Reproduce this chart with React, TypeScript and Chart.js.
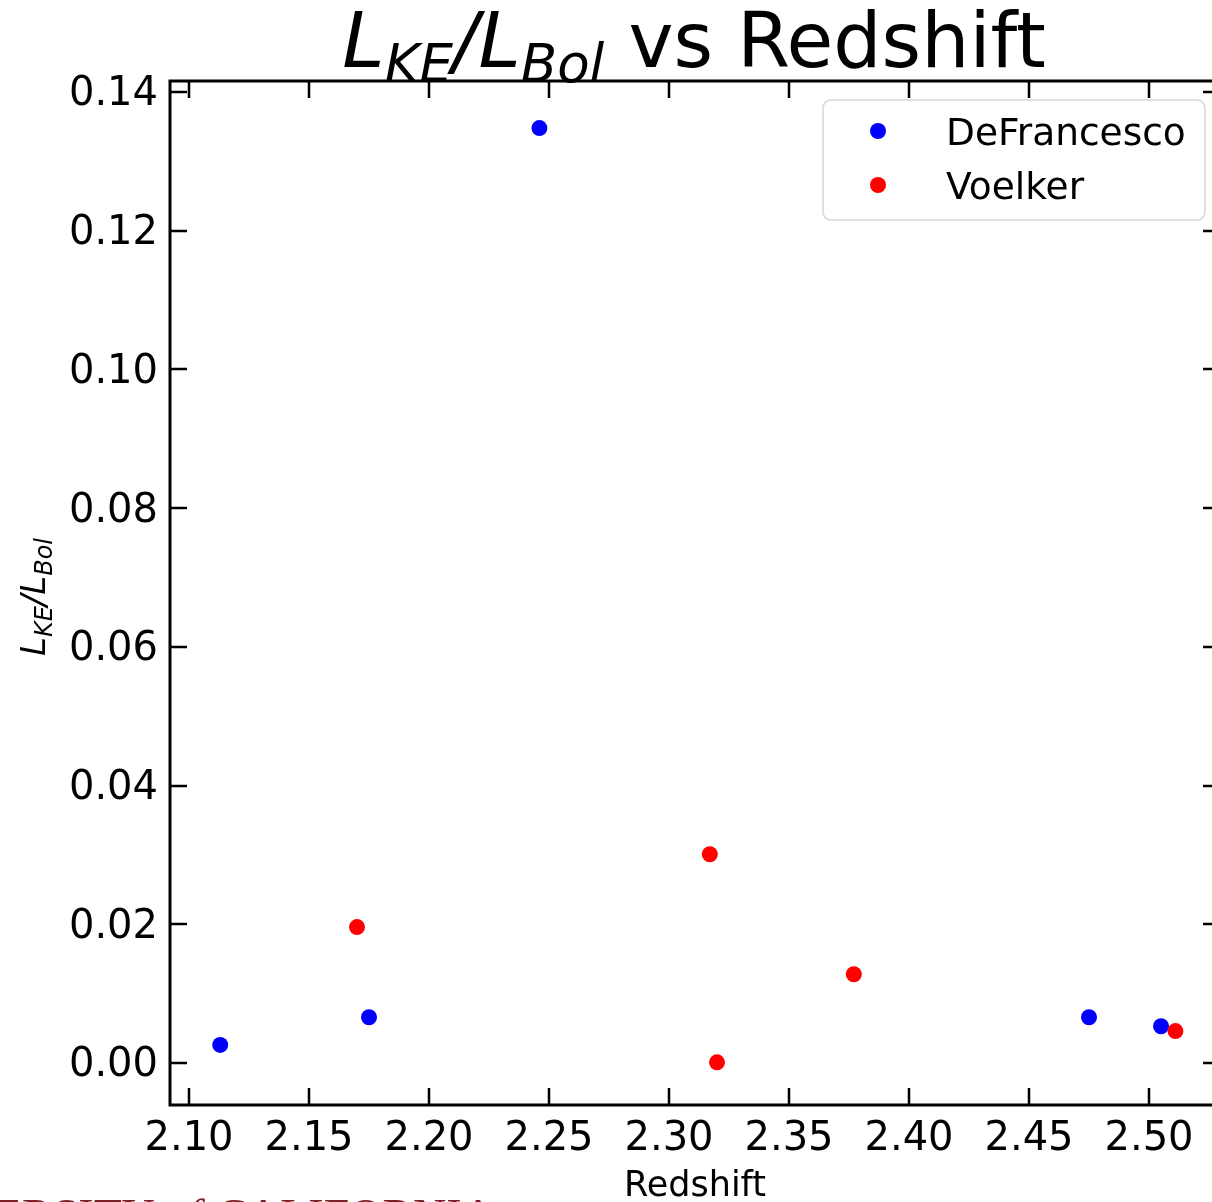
import React, { useEffect, useRef } from "react";
import { Chart, registerables } from "chart.js";

Chart.register(...registerables);

// ---------- data ----------
const seriesNames = ["DeFrancesco", "Voelker"];
const seriesColors = ["#0000ff", "#ff0000"];
const defrancescoZ = [2.113, 2.175, 2.246, 2.475, 2.505];
const defrancescoRatio = [0.0026, 0.0066, 0.1348, 0.0066, 0.0053];
const voelkerZ = [2.17, 2.317, 2.32, 2.377, 2.511];
const voelkerRatio = [0.0196, 0.0301, 0.0001, 0.0128, 0.0046];
const xTickValues = [2.1, 2.15, 2.2, 2.25, 2.3, 2.35, 2.4, 2.45, 2.5];
const yTickValues = [0, 0.02, 0.04, 0.06, 0.08, 0.1, 0.12, 0.14];
const xRange = [2.09208, 2.52958];
const yRange = [-0.006056, 0.141586];
const xLabel = "Redshift";

const FONT = "'DejaVu Sans', sans-serif";

type Seg = { text: string; italic?: boolean; size: number; dy?: number };

function drawSegs(ctx: CanvasRenderingContext2D, segs: Seg[], cx: number, baseY: number) {
  let total = 0;
  const widths: number[] = [];
  for (const s of segs) {
    ctx.font = `${s.italic ? "italic " : ""}${s.size}px ${FONT}`;
    const w = ctx.measureText(s.text).width;
    widths.push(w);
    total += w;
  }
  let x = cx - total / 2;
  ctx.textAlign = "left";
  ctx.textBaseline = "alphabetic";
  segs.forEach((s, i) => {
    ctx.font = `${s.italic ? "italic " : ""}${s.size}px ${FONT}`;
    ctx.fillText(s.text, x, baseY + (s.dy || 0));
    x += widths[i];
  });
}

const decorPlugin = {
  id: "decor",
  afterDraw(chart: any) {
    const ctx: CanvasRenderingContext2D = chart.ctx;
    const { left, right, top, bottom } = chart.chartArea;
    const xs = chart.scales.x;
    const ys = chart.scales.y;
    ctx.save();
    ctx.fillStyle = "#000";
    ctx.strokeStyle = "#000";
    // inward ticks
    const tl = 17;
    ctx.lineWidth = 2.5;
    ctx.beginPath();
    xs.ticks.forEach((t: any) => {
      const px = Math.round(xs.getPixelForValue(t.value));
      ctx.moveTo(px, bottom);
      ctx.lineTo(px, bottom - tl);
      ctx.moveTo(px, top);
      ctx.lineTo(px, top + tl);
    });
    ys.ticks.forEach((t: any) => {
      const py = Math.round(ys.getPixelForValue(t.value));
      ctx.moveTo(left, py);
      ctx.lineTo(left + tl, py);
      ctx.moveTo(right, py);
      ctx.lineTo(right - tl, py);
    });
    ctx.stroke();
    // frame
    ctx.lineWidth = 3;
    ctx.strokeRect(left, top, right - left, bottom - top);

    // title
    const cx = (left + right) / 2;
    drawSegs(
      ctx,
      [
        { text: "L", italic: true, size: 76 },
        { text: "KE", italic: true, size: 53, dy: 15 },
        { text: "/", italic: true, size: 76 },
        { text: "L", italic: true, size: 76 },
        { text: "Bol", italic: true, size: 53, dy: 15 },
        { text: " vs Redshift", size: 76 },
      ],
      cx - 1,
      67
    );

    // x label
    ctx.font = `35px ${FONT}`;
    ctx.textAlign = "center";
    ctx.textBaseline = "alphabetic";
    ctx.fillText(xLabel, cx, 1196);

    // y label
    ctx.save();
    ctx.translate(45, 597);
    ctx.rotate(-Math.PI / 2);
    drawSegs(
      ctx,
      [
        { text: "L", italic: true, size: 34 },
        { text: "KE", italic: true, size: 24, dy: 7 },
        { text: "/", italic: true, size: 34 },
        { text: "L", italic: true, size: 34 },
        { text: "Bol", italic: true, size: 24, dy: 7 },
      ],
      0,
      0
    );
    ctx.restore();

    // legend
    const lx = 823, ly = 100, lw = 382, lh = 120, r = 8;
    ctx.beginPath();
    ctx.moveTo(lx + r, ly);
    ctx.arcTo(lx + lw, ly, lx + lw, ly + lh, r);
    ctx.arcTo(lx + lw, ly + lh, lx, ly + lh, r);
    ctx.arcTo(lx, ly + lh, lx, ly, r);
    ctx.arcTo(lx, ly, lx + lw, ly, r);
    ctx.closePath();
    ctx.fillStyle = "rgba(255,255,255,0.85)";
    ctx.fill();
    ctx.lineWidth = 1.5;
    ctx.strokeStyle = "#d6d6d6";
    ctx.stroke();
    chart.data.datasets.forEach((ds: any, i: number) => {
      const yy = 131 + i * 54;
      ctx.beginPath();
      ctx.arc(878, yy, 8, 0, Math.PI * 2);
      ctx.fillStyle = ds.backgroundColor;
      ctx.fill();
      ctx.fillStyle = "#000";
      ctx.font = `37.5px ${FONT}`;
      ctx.textAlign = "left";
      ctx.textBaseline = "middle";
      ctx.fillText(ds.label, 946, yy + 4);
    });

    // cut-off text at the very bottom of the screenshot
    ctx.fillStyle = "#7d1f24";
    ctx.font = `46px 'Liberation Serif', serif`;
    ctx.textAlign = "left";
    ctx.textBaseline = "alphabetic";
    ctx.fillText("ERSITY of CALIFORNIA", -6, 1231);
    ctx.restore();
  },
};

export default function App() {
  const ref = useRef<HTMLCanvasElement | null>(null);
  useEffect(() => {
    if (!ref.current) return;
    const chart = new Chart(ref.current, {
      type: "scatter",
      data: {
        datasets: [
          {
            label: seriesNames[0],
            data: defrancescoZ.map((x, i) => ({ x, y: defrancescoRatio[i] })),
            backgroundColor: seriesColors[0],
            borderWidth: 0,
            pointRadius: 8,
            order: 1,
          },
          {
            label: seriesNames[1],
            data: voelkerZ.map((x, i) => ({ x, y: voelkerRatio[i] })),
            backgroundColor: seriesColors[1],
            borderWidth: 0,
            pointRadius: 8,
            order: 0,
          },
        ],
      },
      options: {
        responsive: false,
        animation: false,
        events: [],
        layout: { padding: { top: 81, right: 20, left: 0, bottom: 0 } },
        plugins: {
          legend: { display: false },
          title: { display: false },
          tooltip: { enabled: false },
        },
        scales: {
          x: {
            type: "linear",
            min: xRange[0],
            max: xRange[1],
            grid: { display: false, drawTicks: false },
            border: { display: false },
            afterBuildTicks: (s: any) => {
              s.ticks = xTickValues.map((v) => ({ value: v }));
            },
            afterFit: (s: any) => {
              s.height = 97;
            },
            ticks: {
              autoSkip: false,
              maxRotation: 0,
              padding: 11,
              color: "#000",
              font: { size: 40, family: FONT },
              callback: (v: any) => Number(v).toFixed(2),
            },
          },
          y: {
            type: "linear",
            min: yRange[0],
            max: yRange[1],
            grid: { display: false, drawTicks: false },
            border: { display: false },
            afterBuildTicks: (s: any) => {
              s.ticks = yTickValues.map((v) => ({ value: v }));
            },
            afterFit: (s: any) => {
              s.width = 170;
            },
            ticks: {
              autoSkip: false,
              padding: 12,
              labelOffset: 3,
              color: "#000",
              font: { size: 40, family: FONT },
              callback: (v: any) => Number(v).toFixed(2),
            },
          },
        },
      },
      plugins: [decorPlugin],
    } as any);
    return () => chart.destroy();
  }, []);
  return (
    <div
      style={{
        position: "fixed",
        left: 0,
        top: 0,
        width: 1212,
        height: 1202,
        overflow: "hidden",
        background: "#fff",
      }}
    >
      <canvas ref={ref} width={1240} height={1202} style={{ width: 1240, height: 1202, display: "block" }} />
    </div>
  );
}
